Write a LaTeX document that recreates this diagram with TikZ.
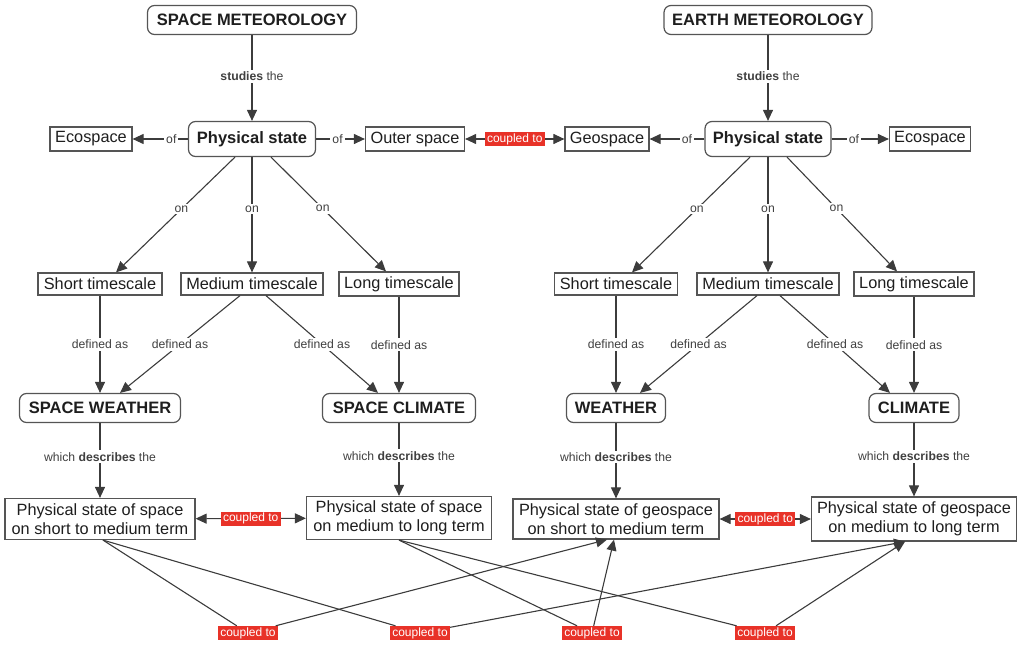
\documentclass[tikz,border=0pt]{standalone}
\usepackage{fontspec}
\setmainfont{Liberation Sans}
\usetikzlibrary{arrows.meta}
\definecolor{cred}{RGB}{232,50,40}
\definecolor{edgec}{RGB}{60,60,60}
\definecolor{boxc}{RGB}{85,85,85}
\definecolor{txtc}{RGB}{30,30,30}
\begin{document}
\begin{tikzpicture}[x=1pt,y=-1pt,
 box/.style={draw=boxc, line width=1.2pt, fill=white, text=txtc, inner sep=0pt, font=\fontsize{16.3}{19}\selectfont, align=center},
 rbox/.style={box, rounded corners=7pt},
 bbox/.style={rbox, font=\bfseries\fontsize{16.5}{19}\selectfont},
 lbl/.style={fill=white, text=txtc!85, inner sep=2pt, font=\fontsize{12.2}{14}\selectfont},
 cpl/.style={fill=cred, text=white, inner sep=0pt, minimum width=60pt, minimum height=14pt, font=\fontsize{12}{14}\selectfont},
 conn/.style={draw=edgec, line width=1.1pt},
 arr/.style={conn, -{Triangle[length=11pt,width=10pt]}},
 darr/.style={conn, {Triangle[length=11pt,width=10pt]}-{Triangle[length=11pt,width=10pt]}},
]
\useasboundingbox (0,0) rectangle (1017,645);

% ---------- top ----------
\node[bbox, minimum width=209pt, minimum height=29pt] (sm) at (252,20) {SPACE METEOROLOGY};
\node[bbox, minimum width=208pt, minimum height=29pt] (em) at (768,20) {EARTH METEOROLOGY};

\node[bbox, minimum width=127pt, minimum height=35pt] (psl) at (252,139) {Physical state};
\node[bbox, minimum width=126pt, minimum height=35pt] (psr) at (768,139) {Physical state};

\node[box, minimum width=82pt, minimum height=24pt] (ecol) at (91,139) {Ecospace};
\node[box, minimum width=99pt, minimum height=24pt] (outer) at (415,139) {Outer space};
\node[box, minimum width=84pt, minimum height=24pt] (geo) at (607,139) {Geospace};
\node[box, minimum width=81pt, minimum height=24pt] (ecor) at (930,139) {Ecospace};

\draw[arr] (sm) -- node[lbl, pos=0.48] {{\bfseries studies} the} (psl);
\draw[arr] (em) -- node[lbl, pos=0.48] {{\bfseries studies} the} (psr);

\draw[arr] (psl) -- node[lbl, pos=0.3] {of} (ecol);
\draw[arr] (psl) -- node[lbl, pos=0.44] {of} (outer);
\draw[arr] (psr) -- node[lbl, pos=0.32] {of} (geo);
\draw[arr] (psr) -- node[lbl, pos=0.39] {of} (ecor);

\draw[darr] (outer) -- node[cpl, midway] {coupled to} (geo);

% ---------- timescales ----------
\node[box, minimum width=124pt, minimum height=22pt] (stl) at (100,284) {Short timescale};
\node[box, minimum width=142pt, minimum height=22pt] (mtl) at (252,284) {Medium timescale};
\node[box, minimum width=120pt, minimum height=24pt] (ltl) at (399,284) {Long timescale};

\node[box, minimum width=123pt, minimum height=22pt] (str) at (616,284) {Short timescale};
\node[box, minimum width=142pt, minimum height=22pt] (mtr) at (768,284) {Medium timescale};
\node[box, minimum width=120pt, minimum height=24pt] (ltr) at (914,284) {Long timescale};

\draw[arr] ([xshift=-17pt]psl.south) -- node[lbl, pos=0.45] {on} ([xshift=16pt]stl.north);
\draw[arr] (psl.south) -- node[lbl, pos=0.45] {on} (mtl.north);
\draw[arr] ([xshift=19pt]psl.south) -- node[lbl, pos=0.45] {on} ([xshift=-13pt]ltl.north);

\draw[arr] ([xshift=-18pt]psr.south) -- node[lbl, pos=0.45] {on} ([xshift=16pt]str.north);
\draw[arr] (psr.south) -- node[lbl, pos=0.45] {on} (mtr.north);
\draw[arr] ([xshift=19pt]psr.south) -- node[lbl, pos=0.45] {on} ([xshift=-17pt]ltr.north);

% ---------- weather / climate ----------
\node[bbox, minimum width=161pt, minimum height=29pt] (sw) at (100,408) {SPACE WEATHER};
\node[bbox, minimum width=153pt, minimum height=29pt] (sc) at (399,408) {SPACE CLIMATE};
\node[bbox, minimum width=99pt, minimum height=29pt] (w) at (616,408) {WEATHER};
\node[bbox, minimum width=90pt, minimum height=29pt] (c) at (914,408) {CLIMATE};

\draw[arr] (stl.south) -- node[lbl, pos=0.5] {defined as} (sw.north);
\draw[arr] ([xshift=-12pt]mtl.south) -- node[lbl, pos=0.5] {defined as} ([xshift=20pt]sw.north);
\draw[arr] ([xshift=14pt]mtl.south) -- node[lbl, pos=0.5] {defined as} ([xshift=-21pt]sc.north);
\draw[arr] (ltl.south) -- node[lbl, pos=0.5] {defined as} (sc.north);

\draw[arr] (str.south) -- node[lbl, pos=0.5] {defined as} (w.north);
\draw[arr] ([xshift=-11pt]mtr.south) -- node[lbl, pos=0.5] {defined as} ([xshift=24pt]w.north);
\draw[arr] ([xshift=12pt]mtr.south) -- node[lbl, pos=0.5] {defined as} ([xshift=-24pt]c.north);
\draw[arr] (ltr.south) -- node[lbl, pos=0.5] {defined as} (c.north);

% ---------- physical states ----------
\node[box, minimum width=190pt, minimum height=41pt] (ssm) at (100,519) {Physical state of space\\on short to medium term};
\node[box, minimum width=185pt, minimum height=43pt] (sml) at (399,518) {Physical state of space\\on medium to long term};
\node[box, minimum width=206pt, minimum height=40pt] (gsm) at (616,519) {Physical state of geospace\\on short to medium term};
\node[box, minimum width=205pt, minimum height=44pt] (gml) at (914,519) {Physical state of geospace\\on medium to long term};

\draw[arr] (sw.south) -- node[lbl, pos=0.45] {which {\bfseries describes} the} (ssm.north);
\draw[arr] (sc.south) -- node[lbl, pos=0.45] {which {\bfseries describes} the} (sml.north);
\draw[arr] (w.south) -- node[lbl, pos=0.45] {which {\bfseries describes} the} (gsm.north);
\draw[arr] (c.south) -- node[lbl, pos=0.45] {which {\bfseries describes} the} (gml.north);

\draw[darr] (ssm) -- node[cpl, midway] {coupled to} (sml);
\draw[darr] (gsm) -- node[cpl, midway] {coupled to} (gml);

% ---------- cross couplings ----------
\node[cpl] (c1) at (248,633) {coupled to};
\node[cpl] (c2) at (420,633) {coupled to};
\node[cpl] (c3) at (592,633) {coupled to};
\node[cpl] (c4) at (765,633) {coupled to};

\draw[conn] ([xshift=3pt]ssm.south) -- (c1);
\draw[conn] ([xshift=3pt]ssm.south) -- (c2);
\draw[conn] (sml.south) -- (c3);
\draw[conn] (sml.south) -- (c4);

\draw[arr] (c1) -- ([xshift=-9pt]gsm.south);
\draw[arr] (c3) -- ([xshift=-2pt]gsm.south);
\draw[arr] (c2) -- ([xshift=-9pt]gml.south);
\draw[arr] (c4) -- ([xshift=-9pt]gml.south);

\end{tikzpicture}
\end{document}
